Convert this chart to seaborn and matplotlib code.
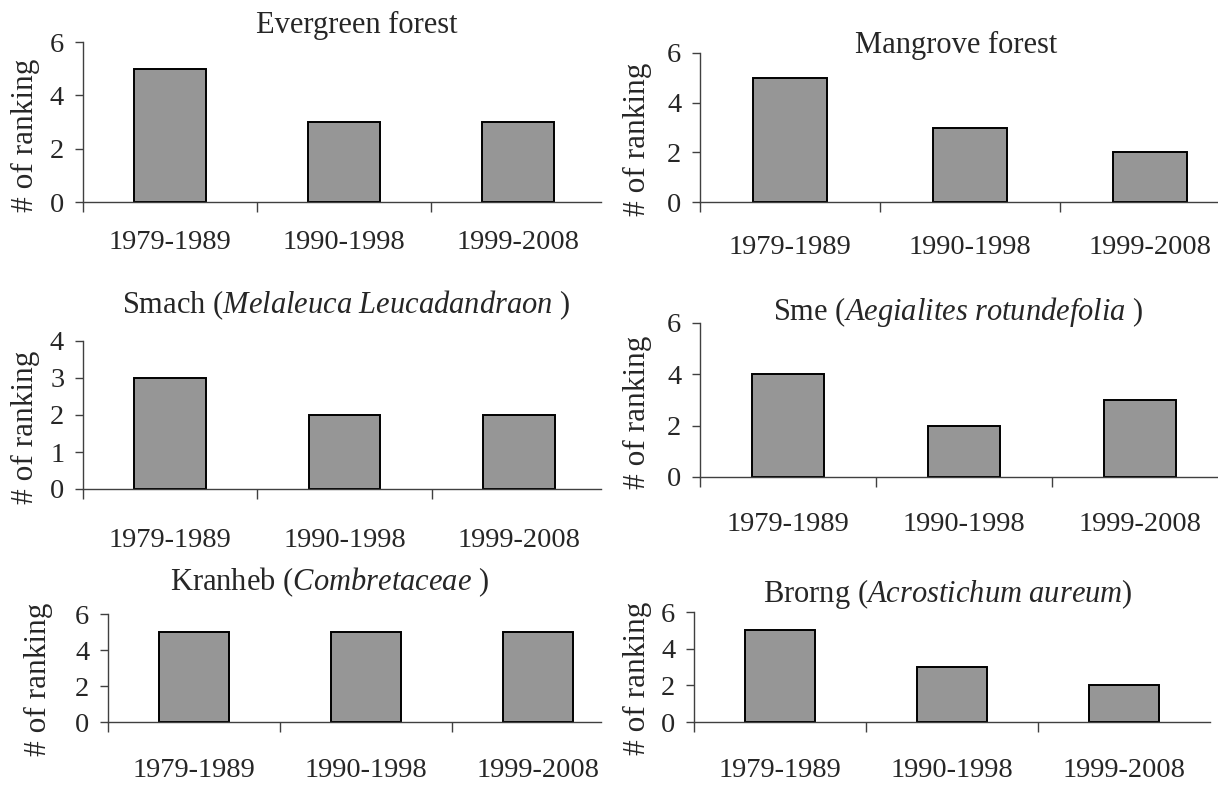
import matplotlib
matplotlib.use("Agg")
import matplotlib.pyplot as plt
import seaborn as sns

periods = ["1979-1989", "1990-1998", "1999-2008"]
evergreen = [5, 3, 3]
mangrove = [5, 3, 2]
smach = [3, 2, 2]
sme = [4, 2, 3]
kranheb = [5, 5, 5]
brorng = [5, 3, 2]

titles = [
    "Evergreen forest",
    "Mangrove forest",
    r"Smach ($\mathit{Melaleuca\ Leucadandraon}$ )",
    r"Sme ($\mathit{Aegialites\ rotundefolia}$ )",
    r"Kranheb ($\mathit{Combretaceae}$ )",
    r"Brorng ($\mathit{Acrostichum\ aureum}$)",
]
series = [evergreen, mangrove, smach, sme, kranheb, brorng]
ymax = [6, 6, 4, 6, 6, 6]
ystep = [2, 2, 1, 2, 2, 2]

sns.set_style("white")
plt.rcParams["font.family"] = ["Liberation Serif", "DejaVu Serif"]
plt.rcParams["mathtext.fontset"] = "custom"
plt.rcParams["mathtext.rm"] = "Liberation Serif"
plt.rcParams["mathtext.it"] = "Liberation Serif:italic"

W, H = 1218, 785
fig = plt.figure(figsize=(W / 100, H / 100), dpi=100)

# pixel layout per panel: left, right, top, bottom(y=0), spine end,
# title x / baseline, ylabel centre, x label pad (pt)
layout = [
    (83, 605, 42, 202, 601, 357, 33, 25, 135, 20),
    (700, 1240, 53, 202, None, 956, 53, 637, 139, 24),
    (83, 606, 341, 489, 601, 346, 313, 25, 427, 28),
    (700, 1228, 323, 477, None, 958, 320, 637, 412, 25),
    (108, 624, 614, 722, 601, 330, 590, 38, 679, 26),
    (694, 1210, 612, 722, None, 948, 602, 637, 678, 26),
]

axis_col = "#404040"
for vals, title, top_v, step, lay in zip(series, titles, ymax, ystep, layout):
    l, r, t, b, send, tx, ty, lx, ly, xpad = lay
    ax = fig.add_axes([l / W, 1 - b / H, (r - l) / W, (b - t) / H])
    sns.barplot(x=periods, y=vals, color="#969696", saturation=1,
                edgecolor="black", linewidth=1.4, width=0.41, ax=ax)
    ax.set_xlim(-0.5, 2.5)
    ax.set_ylim(0, top_v)
    ax.set_yticks(range(0, top_v + 1, step))
    ax.set_xticks([0, 1, 2])
    ax.set_xticklabels(periods)
    ax.set_xticks([-0.5, 0.5, 1.5], minor=True)
    ax.set_xlabel("")
    ax.set_ylabel("")
    for s in ["top", "right"]:
        ax.spines[s].set_visible(False)
    for s in ["left", "bottom"]:
        ax.spines[s].set_color(axis_col)
        ax.spines[s].set_linewidth(1.0)
    if send is not None:
        ax.spines["bottom"].set_bounds(-0.5, -0.5 + 3 * (send - l) / (r - l))
    ax.tick_params(axis="x", which="major", bottom=True, length=0,
                   pad=xpad, labelsize=20.5)
    ax.tick_params(axis="x", which="minor", bottom=True, length=7.5,
                   width=1.0, color=axis_col, direction="out")
    ax.tick_params(axis="y", left=True, length=6, width=1.0, color=axis_col,
                   direction="out", pad=7.5, labelsize=20.5)
    ax.grid(False)
    fig.text(tx / W, 1 - ty / H, title, ha="center", va="baseline", fontsize=22)
    fig.text(lx / W, 1 - ly / H, "# of ranking", rotation=90,
             ha="center", va="center", fontsize=22.5)

fig.savefig("out.png", dpi=100)
